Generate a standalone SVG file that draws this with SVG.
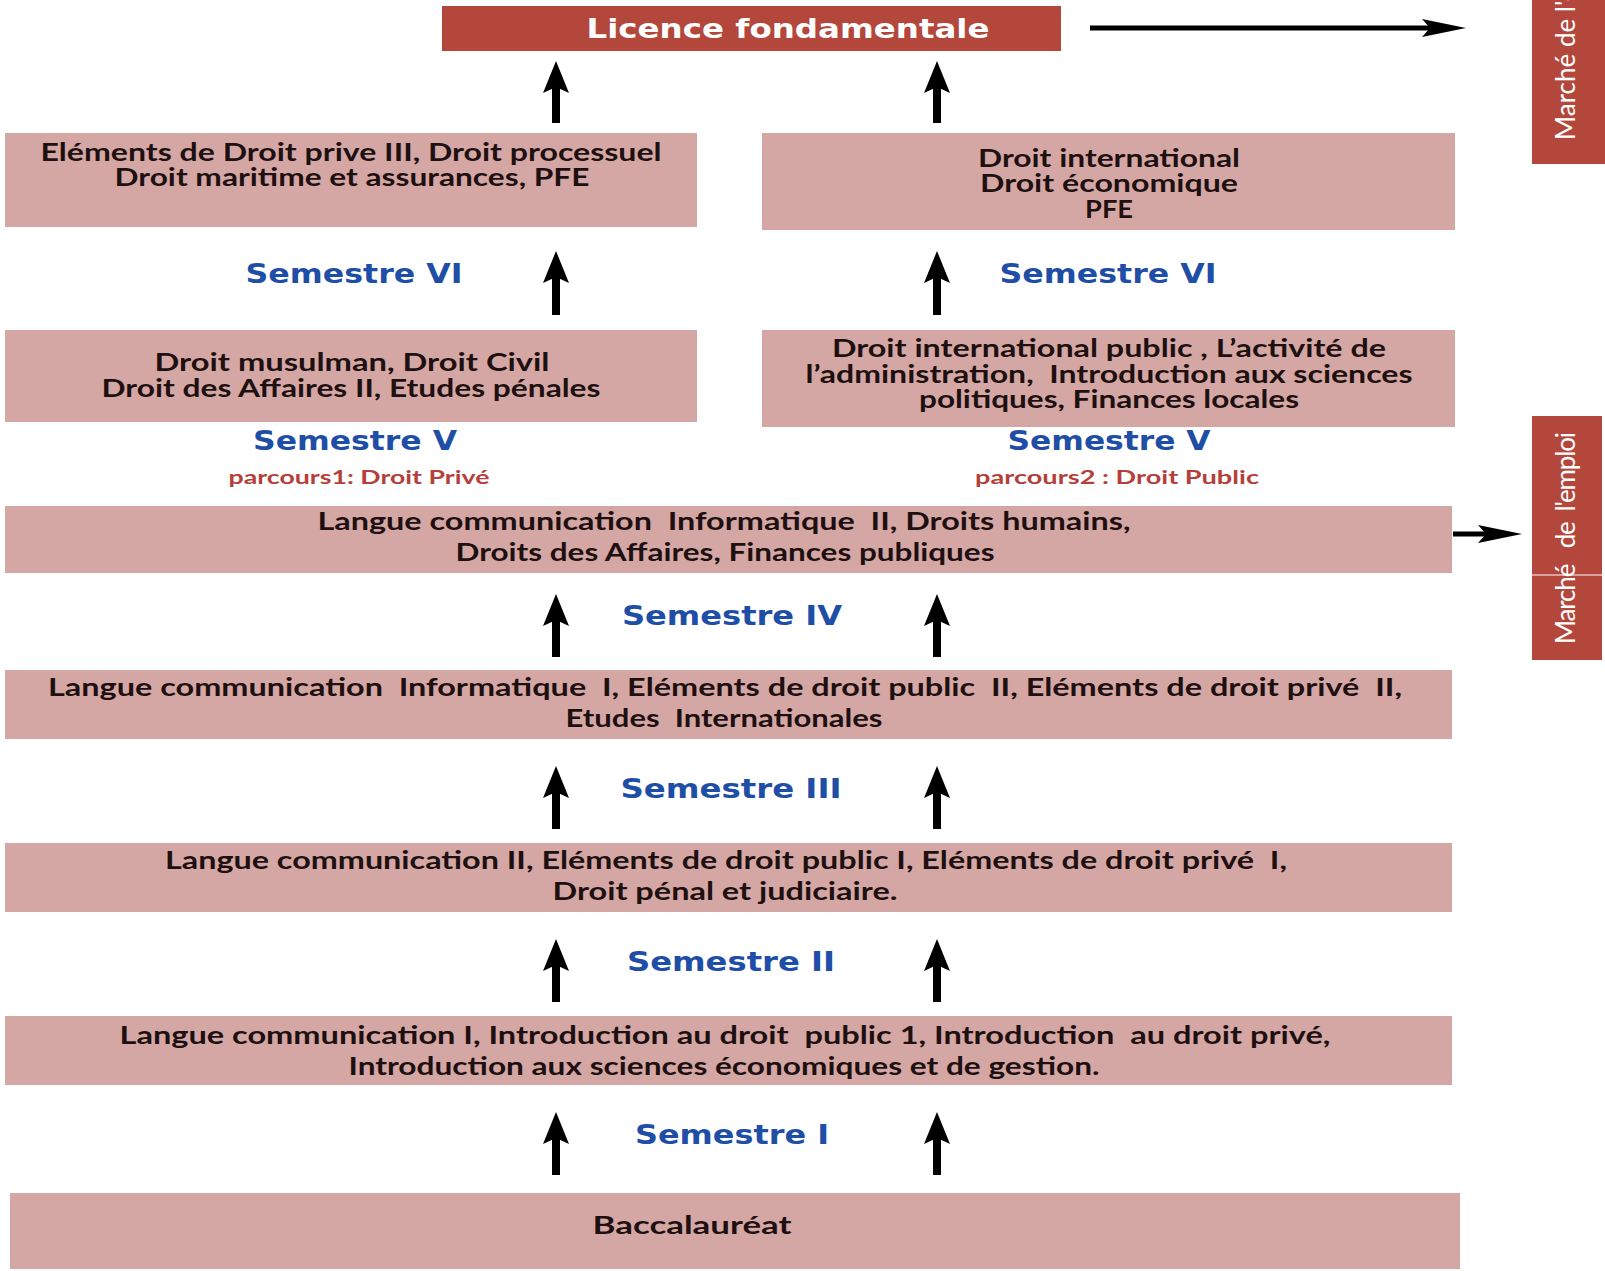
<svg xmlns="http://www.w3.org/2000/svg" width="1605" height="1271" viewBox="0 0 1605 1271">
<defs>
<style>
.box{fill:#d4a7a4;}
.dark{fill:#b3473b;}
.t{font-family:Lato,"Open Sans","Liberation Sans",sans-serif;font-weight:bold;font-size:24px;fill:#1e1010;text-anchor:middle;white-space:pre;}
.sem{font-family:"DejaVu Sans",Verdana,sans-serif;font-weight:bold;font-size:26px;fill:#1f4ea6;text-anchor:middle;}
.par{font-family:Lato,"Open Sans",sans-serif;font-weight:bold;font-size:19px;fill:#b5403a;text-anchor:middle;}
.lic{font-family:"DejaVu Sans",Verdana,sans-serif;font-weight:bold;font-size:27px;fill:#ffffff;text-anchor:middle;}
.mk{font-family:Lato,"Open Sans",sans-serif;font-size:26px;fill:#ffffff;text-anchor:middle;white-space:pre;}
.up{stroke:#000;stroke-width:8;fill:none;marker-end:url(#ah);}
.rt{stroke:#000;stroke-width:5;fill:none;marker-end:url(#ah2);}
</style>
<marker id="ah" markerUnits="userSpaceOnUse" markerWidth="34" markerHeight="28" refX="6" refY="13" orient="auto">
<path d="M0,0 L32,13 L0,26 L6,13 Z" fill="#000"/>
</marker>
<marker id="ah2" markerUnits="userSpaceOnUse" markerWidth="46" markerHeight="20" refX="8" refY="9" orient="auto">
<path d="M0,0 L44,9 L0,18 L8,9 Z" fill="#000"/>
</marker>
</defs>
<rect width="1605" height="1271" fill="#ffffff"/>

<g id="licence">
<rect class="dark" x="442" y="6" width="619" height="45"/>
<text class="lic" x="788" y="38" textLength="403" lengthAdjust="spacingAndGlyphs">Licence fondamentale</text>
</g>

<g id="marche-top">
<rect class="dark" x="1532" y="0" width="73" height="164"/>
<text class="mk" transform="translate(1575,140) rotate(-90)" style="text-anchor:start">Marché de l'e</text>
</g>

<g id="marche-emploi">
<rect class="dark" x="1532" y="416" width="70" height="244"/>
<line x1="1530" y1="575" x2="1605" y2="575" stroke="#ffffff" stroke-width="1"/>
<text class="mk" transform="translate(1575,538) rotate(-90)" textLength="212" lengthAdjust="spacing">Marché   de  l'emploi</text>
</g>

<g id="s6-prive">
<rect class="box" x="5" y="133" width="692" height="94"/>
<text class="t" x="351" y="161" textLength="621" lengthAdjust="spacingAndGlyphs">Eléments de Droit prive III, Droit processuel</text>
<text class="t" x="352" y="186" textLength="475" lengthAdjust="spacingAndGlyphs">Droit maritime et assurances, PFE</text>
</g>

<g id="s6-public">
<rect class="box" x="762" y="133" width="693" height="97"/>
<text class="t" x="1109" y="167" textLength="262" lengthAdjust="spacingAndGlyphs">Droit international</text>
<text class="t" x="1109" y="192" textLength="258" lengthAdjust="spacingAndGlyphs">Droit économique</text>
<text class="t" x="1109" y="218" textLength="48" lengthAdjust="spacingAndGlyphs">PFE</text>
</g>

<g id="label-s6-left"><text class="sem" x="354" y="283" textLength="217" lengthAdjust="spacingAndGlyphs">Semestre VI</text></g>
<g id="label-s6-right"><text class="sem" x="1108" y="283" textLength="217" lengthAdjust="spacingAndGlyphs">Semestre VI</text></g>

<g id="s5-prive">
<rect class="box" x="5" y="330" width="692" height="92"/>
<text class="t" x="352" y="371" textLength="395" lengthAdjust="spacingAndGlyphs">Droit musulman, Droit Civil</text>
<text class="t" x="351" y="397" textLength="499" lengthAdjust="spacingAndGlyphs">Droit des Affaires II, Etudes pénales</text>
</g>

<g id="s5-public">
<rect class="box" x="762" y="330" width="693" height="97"/>
<text class="t" x="1109" y="357" textLength="554" lengthAdjust="spacingAndGlyphs">Droit international public , L’activité de</text>
<text class="t" x="1109" y="383" textLength="607" lengthAdjust="spacingAndGlyphs">l’administration,  Introduction aux sciences</text>
<text class="t" x="1109" y="408" textLength="380" lengthAdjust="spacingAndGlyphs">politiques, Finances locales</text>
</g>

<g id="label-s5-left">
<text class="sem" x="355" y="450" textLength="204" lengthAdjust="spacingAndGlyphs">Semestre V</text>
<text class="par" x="359" y="484" textLength="261" lengthAdjust="spacingAndGlyphs">parcours1: Droit Privé</text>
</g>
<g id="label-s5-right">
<text class="sem" x="1109" y="450" textLength="203" lengthAdjust="spacingAndGlyphs">Semestre V</text>
<text class="par" x="1117" y="484" textLength="284" lengthAdjust="spacingAndGlyphs">parcours2 : Droit Public</text>
</g>

<g id="s4">
<rect class="box" x="5" y="506" width="1447" height="67"/>
<text class="t" x="724" y="530" textLength="813" lengthAdjust="spacingAndGlyphs">Langue communication  Informatique  II, Droits humains,</text>
<text class="t" x="725" y="561" textLength="539" lengthAdjust="spacingAndGlyphs">Droits des Affaires, Finances publiques</text>
</g>

<g id="label-s4"><text class="sem" x="732" y="625" textLength="220" lengthAdjust="spacingAndGlyphs">Semestre IV</text></g>

<g id="s3">
<rect class="box" x="5" y="670" width="1447" height="69"/>
<text class="t" x="725" y="696" textLength="1354" lengthAdjust="spacingAndGlyphs">Langue communication  Informatique  I, Eléments de droit public  II, Eléments de droit privé  II,</text>
<text class="t" x="724" y="727" textLength="317" lengthAdjust="spacingAndGlyphs">Etudes  Internationales</text>
</g>

<g id="label-s3"><text class="sem" x="731" y="798" textLength="221" lengthAdjust="spacingAndGlyphs">Semestre III</text></g>

<g id="s2">
<rect class="box" x="5" y="843" width="1447" height="69"/>
<text class="t" x="726" y="869" textLength="1122" lengthAdjust="spacingAndGlyphs">Langue communication II, Eléments de droit public I, Eléments de droit privé  I,</text>
<text class="t" x="725" y="900" textLength="345" lengthAdjust="spacingAndGlyphs">Droit pénal et judiciaire.</text>
</g>

<g id="label-s2"><text class="sem" x="731" y="971" textLength="208" lengthAdjust="spacingAndGlyphs">Semestre II</text></g>

<g id="s1">
<rect class="box" x="5" y="1016" width="1447" height="69"/>
<text class="t" x="725" y="1044" textLength="1211" lengthAdjust="spacingAndGlyphs">Langue communication I, Introduction au droit  public 1, Introduction  au droit privé,</text>
<text class="t" x="724" y="1075" textLength="751" lengthAdjust="spacingAndGlyphs">Introduction aux sciences économiques et de gestion.</text>
</g>

<g id="label-s1"><text class="sem" x="732" y="1144" textLength="194" lengthAdjust="spacingAndGlyphs">Semestre I</text></g>

<g id="bac">
<rect class="box" x="10" y="1193" width="1450" height="76"/>
<text class="t" x="692" y="1234" textLength="199" lengthAdjust="spacingAndGlyphs">Baccalauréat</text>
</g>

<g id="connectors">
<line class="up" x1="556" y1="123" x2="556" y2="87"/>
<line class="up" x1="937" y1="123" x2="937" y2="87"/>
<line class="up" x1="556" y1="315" x2="556" y2="277"/>
<line class="up" x1="937" y1="315" x2="937" y2="277"/>
<line class="up" x1="556" y1="657" x2="556" y2="620"/>
<line class="up" x1="937" y1="657" x2="937" y2="620"/>
<line class="up" x1="556" y1="829" x2="556" y2="792"/>
<line class="up" x1="937" y1="829" x2="937" y2="792"/>
<line class="up" x1="556" y1="1002" x2="556" y2="965"/>
<line class="up" x1="937" y1="1002" x2="937" y2="965"/>
<line class="up" x1="556" y1="1175" x2="556" y2="1138"/>
<line class="up" x1="937" y1="1175" x2="937" y2="1138"/>
<line class="rt" x1="1090" y1="28" x2="1430" y2="28"/>
<line class="rt" x1="1453" y1="534" x2="1486" y2="534"/>
</g>
</svg>
